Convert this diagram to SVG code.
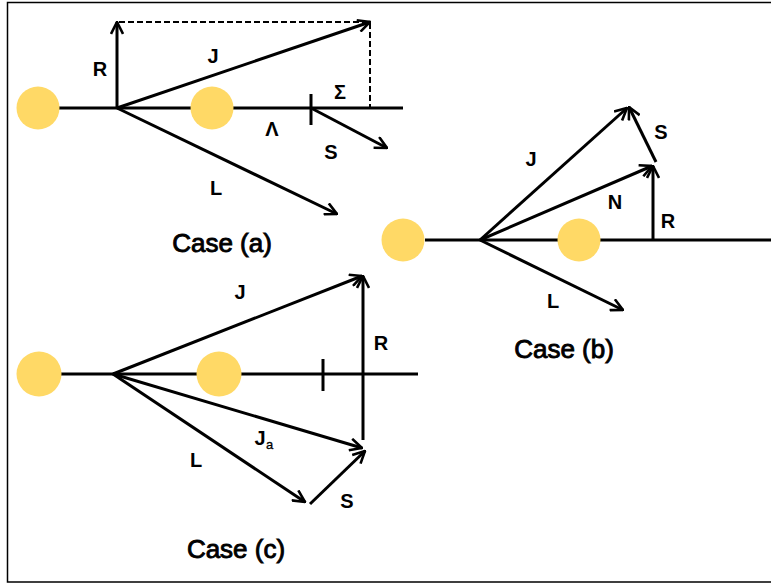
<svg xmlns="http://www.w3.org/2000/svg" width="771" height="585" viewBox="0 0 771 585">
  <defs>
    <marker id="arrow" viewBox="0 0 14 14" refX="13" refY="7" markerWidth="14" markerHeight="14" markerUnits="userSpaceOnUse" orient="auto">
      <path d="M1,1 L13,7 L1,13" fill="none" stroke="#000" stroke-width="2.6" stroke-linejoin="miter"/>
    </marker>
    <style>
      .axis { stroke: #000; stroke-width: 3; fill: none; }
      .vec { stroke: #000; stroke-width: 3; fill: none; marker-end: url(#arrow); }
      .dash { stroke: #000; stroke-width: 2; stroke-dasharray: 6 3; fill: none; }
      .atom { fill: #FFD966; }
      .lbl { font-family: "Liberation Sans", Arial, sans-serif; font-weight: bold; font-size: 20px; text-anchor: middle; fill: #000; }
      .sub { font-family: "Liberation Sans", Arial, sans-serif; font-size: 13px; fill: #000; stroke: #000; stroke-width: 0.3; }
      .cap { font-family: "Liberation Sans", Arial, sans-serif; font-size: 26px; text-anchor: middle; fill: #000; stroke: #000; stroke-width: 0.9; }
    </style>
  </defs>

  <rect width="771" height="585" fill="#fff"/>
  <path d="M771,2.5 H7.5 V582 H771" fill="none" stroke="#000" stroke-width="1.5"/>

  <!-- Case (a) -->
  <g id="case-a">
    <g id="a-axis">
      <line class="axis" x1="59" y1="108" x2="403" y2="108"/>
      <line class="axis" x1="311" y1="94" x2="311" y2="125"/>
    </g>
    <circle id="a-atom1" class="atom" cx="38" cy="108" r="21.5"/>
    <circle id="a-atom2" class="atom" cx="212" cy="108" r="21.5"/>
    <g id="a-connectors">
      <path class="dash" d="M119,22 H370 V108"/>
      <line class="vec" x1="117" y1="108" x2="117" y2="22"/>
      <line class="vec" x1="117" y1="108" x2="370" y2="22"/>
      <line class="vec" x1="117" y1="108" x2="337" y2="214"/>
      <line class="vec" x1="311" y1="108" x2="387" y2="148"/>
    </g>
    <g id="a-labels">
      <text class="lbl" x="100" y="76">R</text>
      <text class="lbl" x="213" y="63">J</text>
      <text class="lbl" x="340" y="99">Σ</text>
      <text class="lbl" x="272" y="136">Λ</text>
      <text class="lbl" x="331" y="159">S</text>
      <text class="lbl" x="216" y="195">L</text>
      <text class="cap" x="222" y="252">Case (a)</text>
    </g>
  </g>

  <!-- Case (b) -->
  <g id="case-b">
    <line class="axis" x1="425" y1="240" x2="771" y2="240"/>
    <circle id="b-atom1" class="atom" cx="403" cy="240" r="21.5"/>
    <circle id="b-atom2" class="atom" cx="579" cy="240" r="21.5"/>
    <g id="b-connectors">
      <line class="vec" x1="480" y1="240" x2="627" y2="108"/>
      <line class="vec" x1="480" y1="240" x2="652" y2="166"/>
      <line class="vec" x1="653" y1="240" x2="653" y2="166"/>
      <line class="vec" x1="656" y1="162" x2="629" y2="107"/>
      <line class="vec" x1="480" y1="240" x2="623" y2="310"/>
    </g>
    <g id="b-labels">
      <text class="lbl" x="531" y="166">J</text>
      <text class="lbl" x="661" y="139">S</text>
      <text class="lbl" x="615" y="209">N</text>
      <text class="lbl" x="668" y="228">R</text>
      <text class="lbl" x="553" y="308">L</text>
      <text class="cap" x="564" y="358">Case (b)</text>
    </g>
  </g>

  <!-- Case (c) -->
  <g id="case-c">
    <g id="c-axis">
      <line class="axis" x1="61" y1="374" x2="418" y2="374"/>
      <line class="axis" x1="323" y1="359" x2="323" y2="391"/>
    </g>
    <circle id="c-atom1" class="atom" cx="39" cy="374" r="22.5"/>
    <circle id="c-atom2" class="atom" cx="219" cy="374" r="22.5"/>
    <g id="c-connectors">
      <line class="vec" x1="113" y1="374" x2="362" y2="276"/>
      <line class="vec" x1="363" y1="440" x2="363" y2="276"/>
      <line class="vec" x1="113" y1="374" x2="362" y2="448"/>
      <line class="vec" x1="113" y1="374" x2="305" y2="502"/>
      <line class="vec" x1="310" y1="504" x2="365" y2="451"/>
    </g>
    <g id="c-labels">
      <text class="lbl" x="260" y="445">J</text>
      <text class="sub" x="266" y="449">a</text>
      <text class="lbl" x="240" y="299">J</text>
      <text class="lbl" x="381" y="350">R</text>
      <text class="lbl" x="196" y="467">L</text>
      <text class="lbl" x="347" y="508">S</text>
      <text class="cap" x="236" y="558">Case (c)</text>
    </g>
  </g>
</svg>
